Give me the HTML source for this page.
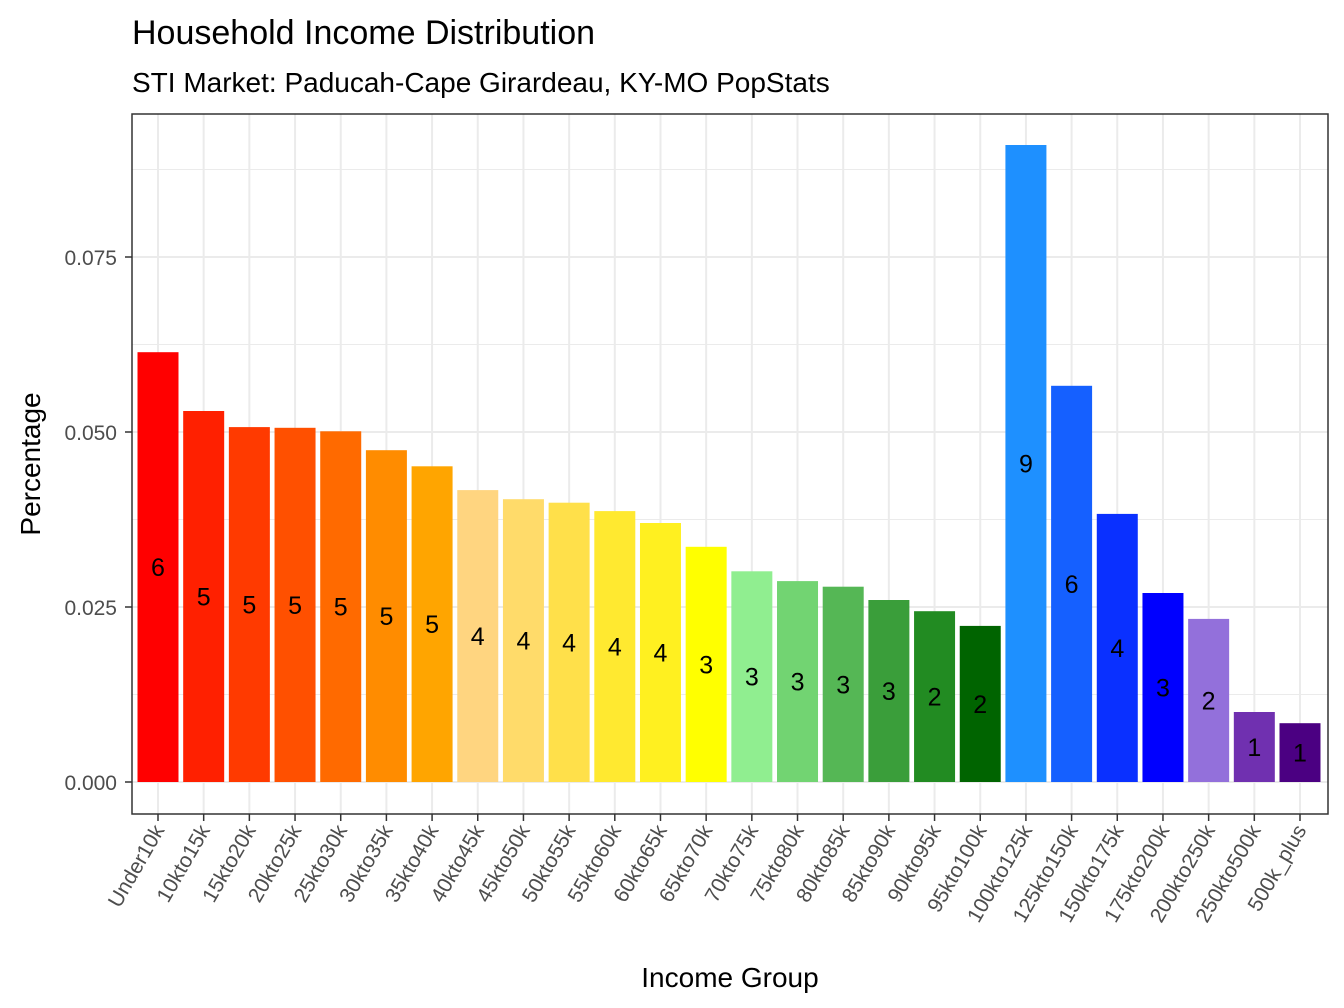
<!DOCTYPE html>
<html><head><meta charset="utf-8"><style>body{margin:0;background:#fff}svg{display:block;font-family:"Liberation Sans",Arial,sans-serif}</style></head>
<body>
<svg id="chart" width="1344" height="1008" viewBox="0 0 1344 1008" xmlns="http://www.w3.org/2000/svg">
<rect width="1344" height="1008" fill="#fff"/>
<text x="132" y="44" font-size="34" fill="#000">Household Income Distribution</text>
<text x="132" y="92" font-size="28" fill="#000">STI Market: Paducah-Cape Girardeau, KY-MO PopStats</text>
<g id="grid"></g><g id="bars"></g><g id="labels"></g><g id="axes"></g>
<rect x="132" y="114" width="1196" height="700" fill="none" stroke="#333" stroke-width="1.5"/>
<text x="730" y="987" font-size="28" text-anchor="middle">Income Group</text>
<text transform="translate(40,464) rotate(-90)" font-size="28" text-anchor="middle">Percentage</text>
</svg>
<script>
const categories=["Under10k","10kto15k","15kto20k","20kto25k","25kto30k","30kto35k","35kto40k","40kto45k","45kto50k","50kto55k","55kto60k","60kto65k","65kto70k","70kto75k","75kto80k","80kto85k","85kto90k","90kto95k","95kto100k","100kto125k","125kto150k","150kto175k","175kto200k","200kto250k","250kto500k","500k_plus"];
const values=[0.0614,0.0530,0.0507,0.0506,0.0501,0.0474,0.0451,0.0417,0.0404,0.0399,0.0387,0.0370,0.0336,0.0301,0.0287,0.0279,0.0260,0.0244,0.0223,0.0910,0.0566,0.0383,0.0270,0.0233,0.0100,0.0084];
const colors=["#FF0000","#FF2000","#FF3A00","#FF5000","#FF6A00","#FF8C00","#FFA500","#FFD580","#FFDB6A","#FFE04A","#FFE930","#FFF020","#FFFF00","#90EE90","#72D472","#55B755","#3A9E3A","#228B22","#006400","#1E90FF","#1560FF","#0A30FF","#0000FF","#9370DB","#7030B0","#4B0082"];
const yTicks=[0,0.025,0.05,0.075];
const yTickLabels=["0.000","0.025","0.050","0.075"];
const NS="http://www.w3.org/2000/svg";
const y=v=>782-v*7000;
const x=i=>158+i*(1300-158)/(categories.length-1);
const bw=41;
function mk(tag,attrs,parent){const e=document.createElementNS(NS,tag);for(const k in attrs)e.setAttribute(k,attrs[k]);document.getElementById(parent).appendChild(e);return e;}
for(let t=0;t<=0.0875;t+=0.0125){const isMajor=Math.round(t/0.0125)%2===0;
const g=mk("line",{x1:132,x2:1328,y1:y(t),y2:y(t),stroke:"#ebebeb","stroke-width":isMajor?2:1},"grid");

}
categories.forEach((c,i)=>{const g=mk("line",{x1:x(i),x2:x(i),y1:114,y2:814,stroke:"#ebebeb","stroke-width":2},"grid");

});
categories.forEach((c,i)=>{const v=values[i];
const r=mk("rect",{x:x(i)-bw/2,y:y(v),width:bw,height:y(0)-y(v),fill:colors[i]},"bars");


const t=mk("text",{x:x(i),y:y(v/2)+9,"font-size":25,"text-anchor":"middle",fill:"#000"},"labels");t.textContent=Math.round(v*100);


const tk=mk("line",{x1:x(i),x2:x(i),y1:814,y2:821,stroke:"#333","stroke-width":1.5},"axes");


const l=mk("text",{transform:`translate(${x(i)+7},${830}) rotate(-60)`,"font-size":21,"text-anchor":"end",fill:"#4d4d4d"},"axes");l.textContent=c;

});
yTicks.forEach((t,i)=>{const tk=mk("line",{x1:125,x2:132,y1:y(t),y2:y(t),stroke:"#333","stroke-width":1.5},"axes");


const l=mk("text",{x:117,y:y(t)+8,"font-size":21,"text-anchor":"end",fill:"#4d4d4d"},"axes");l.textContent=yTickLabels[i];

});
</script>
</body></html>
